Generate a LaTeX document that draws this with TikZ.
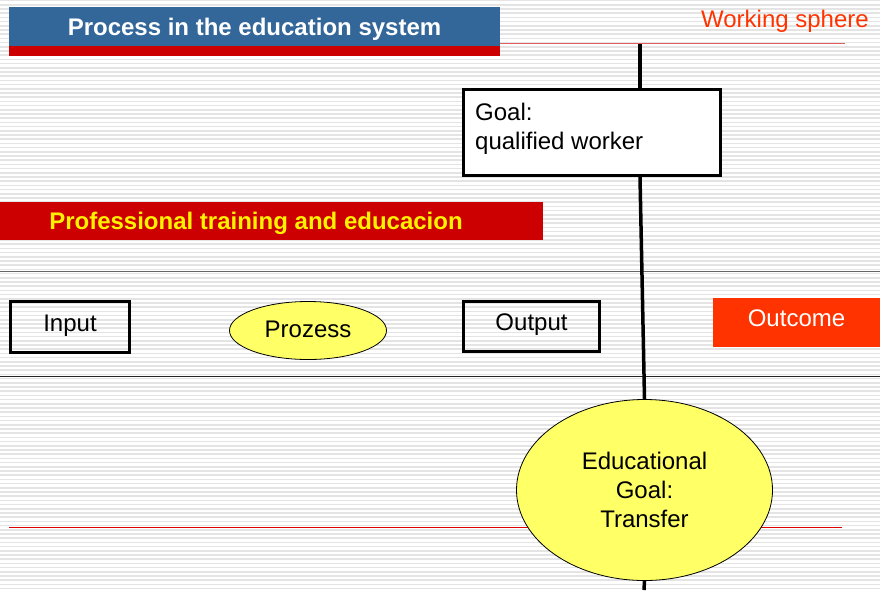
\documentclass[tikz,border=0pt]{standalone}
\usepackage{fontspec}
\setmainfont{Liberation Sans}
\usetikzlibrary{shapes.geometric,positioning}
\definecolor{titleblue}{HTML}{336699}
\definecolor{barred}{HTML}{CC0000}
\definecolor{sphereorange}{HTML}{FF3300}
\definecolor{softyellow}{HTML}{FFFF66}
\definecolor{spherered}{HTML}{E06060}
\definecolor{lowred}{HTML}{E00000}
\definecolor{stripegray}{HTML}{E4E4E4}
\begin{document}
\begin{tikzpicture}[x=1pt,y=-1pt,
  every node/.style={font=\fontsize{24}{29}\selectfont,inner sep=0pt},
  cap text/.style={text height=17pt,text depth=0pt},
  low text/.style={text height=17pt,text depth=9pt},
  frame box/.style={rectangle,draw,line width=3pt,low text},
  sphere box/.style={rectangle,fill=sphereorange,text=white,low text},
  head bar/.style={rectangle,fill=titleblue,text=white,font=\fontsize{24}{29}\selectfont\bfseries,cap text},
  red bar/.style={rectangle,fill=barred},
  yellow oval/.style={ellipse,draw,line width=0.8pt,fill=softyellow},
  stripe/.style={stripegray,line width=1.6pt},
  red rule/.style={line width=1.4pt},
  axis line/.style={line width=3.5pt}]
\useasboundingbox (0,0) rectangle (880,590);
\fill[white] (0,0) rectangle (880,590);
% lined background
\foreach \sy in {0.5,4.7,...,590}
  \draw[stripe] (0,\sy) -- (880,\sy);
\draw[red rule,spherered] (500,43.5) -- (845,43.5);
\draw[gray!80!black,line width=1pt] (0,271) -- (880,271);
\draw[black!85,line width=1pt] (0,376.5) -- (880,376.5);
\draw[red rule,lowred] (9,527.5) -- (842,527.5);
% header
\node [head bar,minimum width=491pt,minimum height=39pt](title) at (254.5,26.5) {Process in the education system};
\node [red bar,minimum width=491pt,minimum height=10pt,below=0pt of title](titlestrip) {};
\node [cap text,text=sphereorange,anchor=east](sphere) at (869,18.5) {Working sphere};
% goal box
\node [rectangle,draw,line width=3pt,fill=white,minimum width=257pt,minimum height=86pt](goal) at (592,132.5) {};
\node [align=left,anchor=west](goaltext) at (475,129) {Goal:\\qualified worker};
% training bar
\node [red bar,minimum width=543pt,minimum height=38.5pt](probar) at (271.5,221) {};
\node [cap text,text=yellow,font=\fontsize{24}{29}\selectfont\bfseries](protext) at (256,221) {Professional training and educacion};
% process row
\node [frame box,minimum width=119pt,minimum height=51pt](input) at (70,327) {Input};
\node [yellow oval,text height=17pt,text depth=4pt,minimum width=157pt,minimum height=58pt](prozess) at (308,330.5) {Prozess};
\node [frame box,minimum width=136pt,minimum height=50pt](output) at (531.5,326.5) {Output};
\node [sphere box,minimum width=167pt,minimum height=49pt](outcome) at (796.5,322.5) {Outcome};
% transfer
\node [yellow oval,align=center,minimum width=256pt,minimum height=181pt](edu) at (644.5,490) {Educational\\Goal:\\Transfer};
\coordinate (axistop) at (640,44);
\coordinate (axisbottom) at (644,590);
\draw[axis line] (axistop) -- (axistop |- goal.north);
\draw[axis line] (axistop |- goal.south) -- (edu.north);
\draw[axis line] (edu.south) -- (axisbottom);
\end{tikzpicture}
\end{document}
